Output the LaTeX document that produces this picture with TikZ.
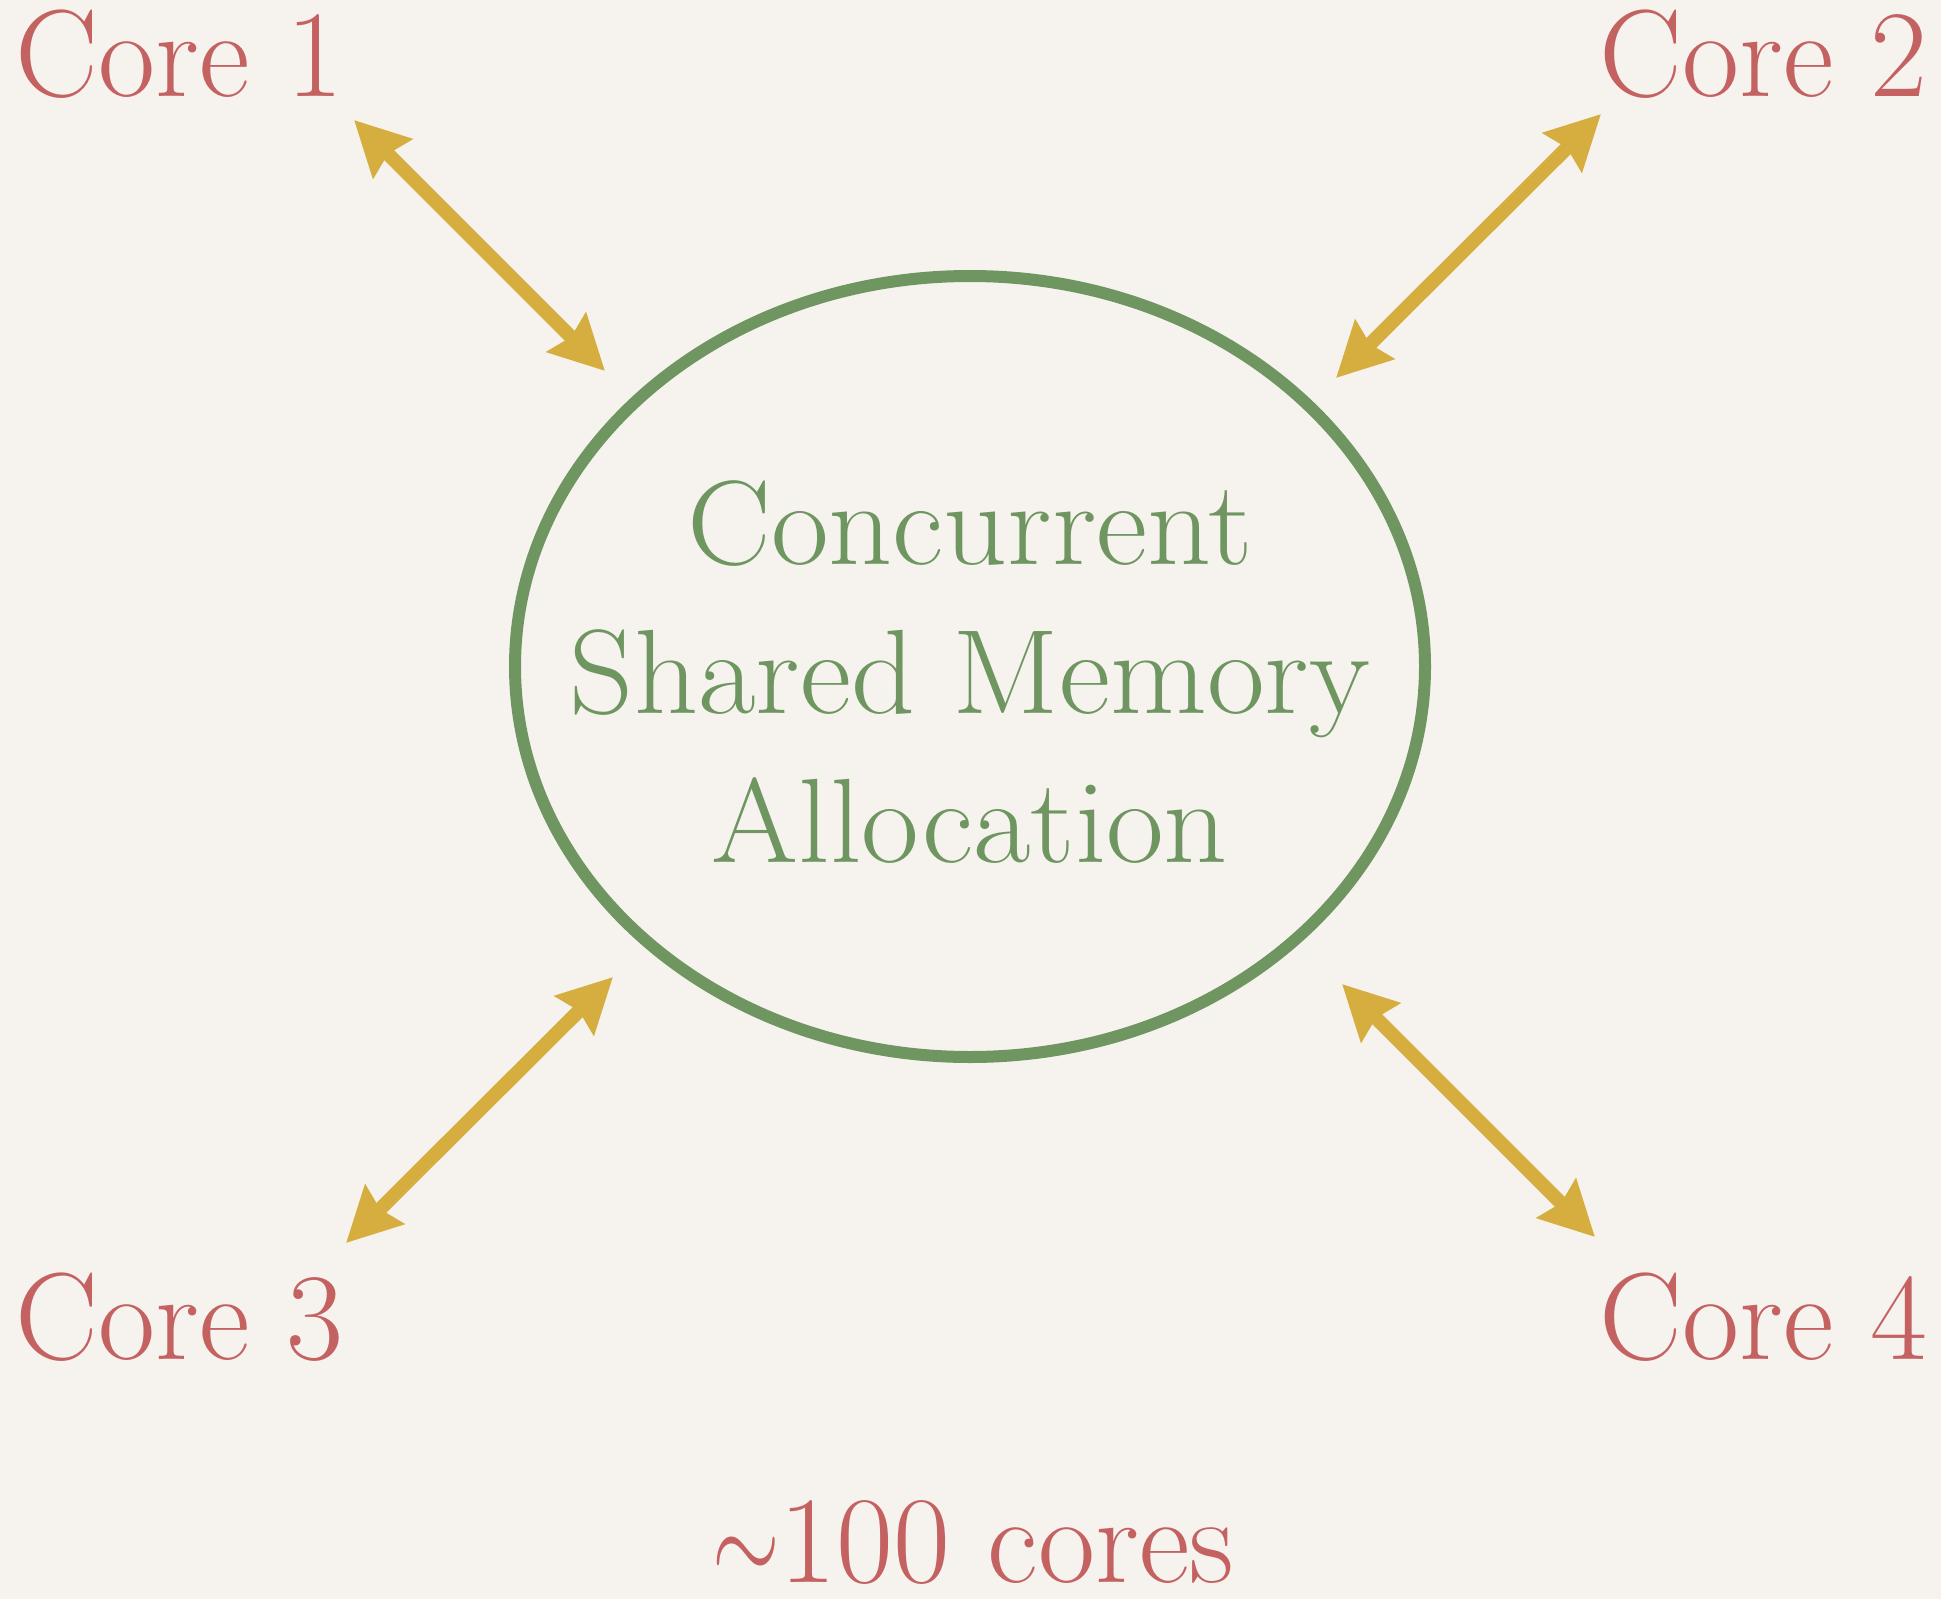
\documentclass[tikz,border=0pt]{standalone}
\usepackage{fix-cm}
\usetikzlibrary{arrows.meta,shapes.geometric}
\definecolor{corered}{HTML}{C46262}
\definecolor{memgreen}{HTML}{6F9660}
\definecolor{arrowgold}{HTML}{D6AE40}
\definecolor{paper}{HTML}{F6F3EF}
\begin{document}
\begin{tikzpicture}[x=0.5pt,y=-0.5pt,
  corelabel/.style={text=corered,inner sep=0pt,font=\fontsize{62}{74}\selectfont},
  memtextstyle/.style={text=memgreen,inner sep=0pt,align=center,font=\fontsize{60}{74.5}\selectfont},
  memring/.style={ellipse,draw=memgreen,line width=6pt,minimum width=455pt,minimum height=390.5pt,inner sep=0pt},
  duplex/.style={draw=arrowgold,line width=7pt,
    {Stealth[length=27pt,width=27pt,inset=3pt]}-{Stealth[length=27pt,width=27pt,inset=3pt]}}]
\fill[paper] (0,0) rectangle (1941,1599);
\useasboundingbox (0,0) rectangle (1941,1599);
% labels
\node[corelabel,anchor=base west] (core1) at (15,97) {Core 1};
\node[corelabel,anchor=base west] (core2) at (1599,97) {Core 2};
\node[corelabel,anchor=base west] (core3) at (15,1359) {Core 3};
\node[corelabel,anchor=base west] (core4) at (1599,1359) {Core 4};
\node[corelabel,anchor=base] (total) at (973,1582) {\scalebox{0.7}[1]{$\sim$}100 cores};
% memory ellipse
\node[memring] (mem) at (970,666.5) {};
\node[memtextstyle] (memtext) at (970,672) {\scalebox{1.045}[1]{Concurrent}\\\scalebox{1.045}[1]{Shared Memory}\\\scalebox{1.045}[1]{Allocation}};
% arrow end points
\coordinate (a1o) at (354,120);
\coordinate (a1i) at (605,371);
\coordinate (a2o) at (1601,114);
\coordinate (a2i) at (1336,378);
\coordinate (a3o) at (346,1243);
\coordinate (a3i) at (613,977);
\coordinate (a4o) at (1595,1237);
\coordinate (a4i) at (1342,984);
\draw[duplex] (a1o) -- (a1i);
\draw[duplex] (a2o) -- (a2i);
\draw[duplex] (a3o) -- (a3i);
\draw[duplex] (a4o) -- (a4i);
\end{tikzpicture}
\end{document}
